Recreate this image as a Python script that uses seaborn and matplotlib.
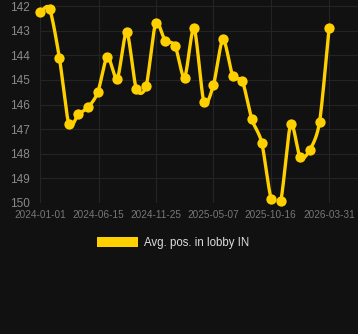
import numpy as np
import pandas as pd
import matplotlib
matplotlib.use("Agg")
import matplotlib.pyplot as plt
import matplotlib.dates as mdates
from matplotlib.patches import Patch
import seaborn as sns

dates = ["2024-01-01", "2024-01-28", "2024-02-25", "2024-03-23", "2024-04-19",
         "2024-05-17", "2024-06-13", "2024-07-10", "2024-08-07", "2024-09-03",
         "2024-09-30", "2024-10-28", "2024-11-24", "2024-12-21", "2025-01-18",
         "2025-02-14", "2025-03-13", "2025-04-10", "2025-05-07", "2025-06-03",
         "2025-07-01", "2025-07-28", "2025-08-24", "2025-09-21", "2025-10-18",
         "2025-11-14", "2025-12-12", "2026-01-08", "2026-02-04", "2026-03-04",
         "2026-03-31"]
avg_pos = [142.25, 142.1, 144.1, 146.8, 146.4, 146.1, 145.5, 144.05, 144.95, 143.05,
           145.35, 145.25, 142.7, 143.4, 143.6, 144.9, 142.9, 145.9, 145.2, 143.35,
           144.85, 145.05, 146.6, 147.55, 149.85, 149.9, 146.8, 148.15, 147.85, 146.7,
           142.9]
tick_dates = ["2024-01-01", "2024-06-15", "2024-11-25", "2025-05-07", "2025-10-16", "2026-03-31"]
y_ticks = [142, 143, 144, 145, 146, 147, 148, 149, 150]
series_name = "Avg. pos. in lobby IN"

BG = "#111111"
GOLD = "#FFD000"
GRID = "#242424"

sns.set_theme(style="dark")
plt.rcParams["font.family"] = ["Liberation Sans", "DejaVu Sans"]

df = pd.DataFrame({"date": pd.to_datetime(dates), "pos": avg_pos})
df["x"] = mdates.date2num(df["date"])

# Cubic Hermite smoothing for the drawn line (display only)
def smooth(x, y, n=20, k=0.8):
    x = np.asarray(x, float); y = np.asarray(y, float)
    m = len(x)
    tx = np.zeros(m); ty = np.zeros(m)
    for i in range(m):
        a = max(i - 1, 0); b = min(i + 1, m - 1)
        tx[i] = k * (x[b] - x[a]) / (b - a) if b != a else 0
        ty[i] = k * (y[b] - y[a]) / (b - a) if b != a else 0
    xs, ys = [], []
    t = np.linspace(0, 1, n, endpoint=False)
    h00 = 2*t**3 - 3*t**2 + 1; h10 = t**3 - 2*t**2 + t
    h01 = -2*t**3 + 3*t**2; h11 = t**3 - t**2
    for i in range(m - 1):
        xs.append(h00*x[i] + h10*tx[i] + h01*x[i+1] + h11*tx[i+1])
        ys.append(h00*y[i] + h10*ty[i] + h01*y[i+1] + h11*ty[i+1])
    xs.append([x[-1]]); ys.append([y[-1]])
    return np.concatenate(xs), np.concatenate(ys)

sx, sy = smooth(df["x"], df["pos"])
curve = pd.DataFrame({"x": sx, "pos": sy})

fig = plt.figure(figsize=(3.58, 3.34), dpi=100, facecolor=BG)
ax = fig.add_axes([40/358, 1 - 203/334, 318/358, 203/334])
ax.set_facecolor(BG)

sns.lineplot(data=curve, x="x", y="pos", ax=ax, color=GOLD, linewidth=2.4,
             sort=False, estimator=None, zorder=3)
sns.scatterplot(data=df, x="x", y="pos", ax=ax, color=GOLD, s=55,
                edgecolor=GOLD, linewidth=0, zorder=4, clip_on=False)

ax.set_xlim(mdates.date2num(pd.Timestamp("2024-01-01")),
            mdates.date2num(pd.Timestamp("2026-06-21")))
ax.set_ylim(150, 141.75)
ax.set_yticks(y_ticks)
ax.set_yticklabels([str(v) for v in y_ticks])
tx = mdates.date2num(pd.to_datetime(tick_dates))
ax.set_xticks(tx)
ax.set_xticklabels(tick_dates)

ax.grid(True, color=GRID, linewidth=0.8)
ax.set_axisbelow(True)
for s in ax.spines.values():
    s.set_visible(False)
ax.tick_params(axis="y", colors="#8a8a8a", labelsize=8.5, length=5, width=0.8,
               pad=2, color=GRID)
ax.tick_params(axis="x", colors="#777777", labelsize=7.2, length=0, pad=5)
ax.set_xlabel("")
ax.set_ylabel("")

handle = Patch(facecolor=GOLD, edgecolor="none")
leg = fig.legend([handle], [series_name], loc="center", bbox_to_anchor=(173/358, 1 - 243/334),
                 frameon=False, fontsize=8.3, handlelength=3.6, handleheight=1.0,
                 handletextpad=0.5, labelcolor="#dddddd")

fig.savefig("out.png", dpi=100, facecolor=BG)
